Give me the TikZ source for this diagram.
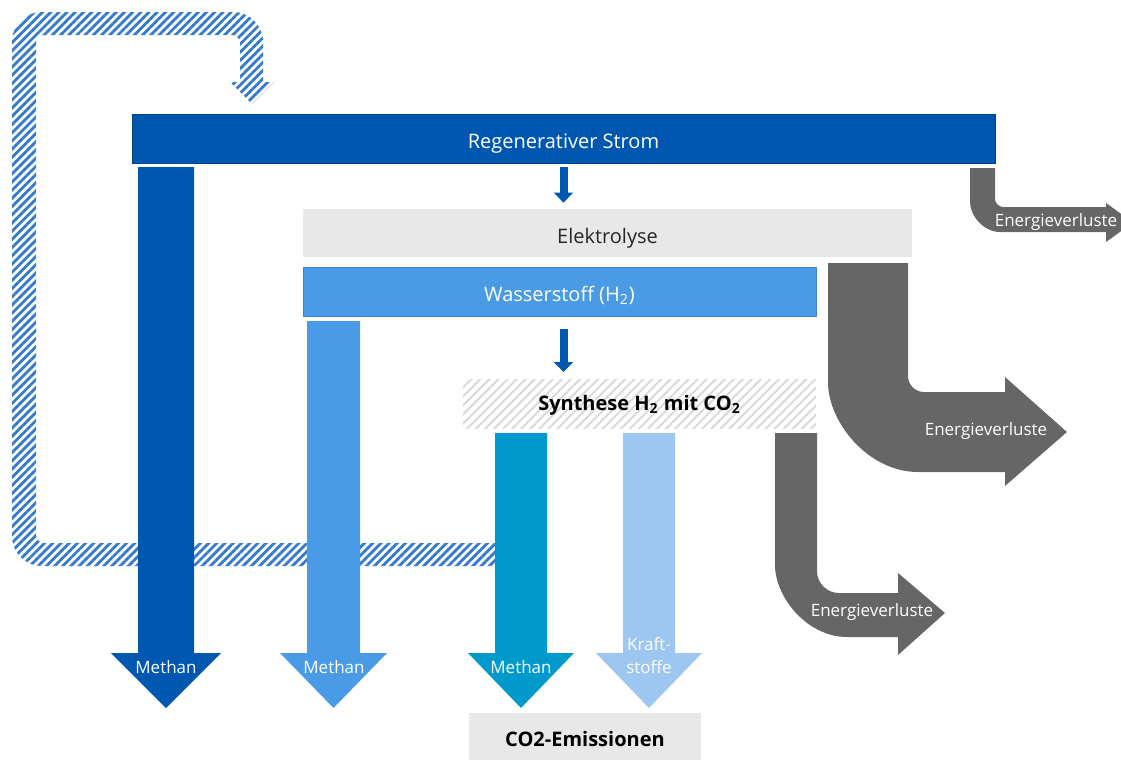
\documentclass[tikz,border=0pt]{standalone}
\usepackage{fontspec}
\setmainfont{Open Sans}
\usetikzlibrary{positioning,calc,patterns.meta,arrows.meta}

\definecolor{stromblue}{HTML}{0057B0}
\definecolor{hblue}{HTML}{4A9BE6}
\definecolor{methteal}{HTML}{0099CC}
\definecolor{kraftblue}{HTML}{9DC7F1}
\definecolor{lossgray}{HTML}{666666}
\definecolor{boxgray}{HTML}{E8E8E8}
\definecolor{hatchblue}{HTML}{3479CC}
\definecolor{hatchgray}{HTML}{D9D9D9}

\newcommand{\mainsize}{\fontsize{10}{11}\selectfont}
\newcommand{\lblsize}{\fontsize{8.5}{11.5}\selectfont}

\begin{document}
\begin{tikzpicture}[x=0.5pt, y=-0.5pt,
    bar/.style={rectangle, inner sep=0pt, text=white, font=\mainsize, text depth=0pt, text height=10pt},
    graybox/.style={rectangle, inner sep=0pt, fill=boxgray, font=\mainsize, text depth=0pt, text height=10pt},
    lbl/.style={text=white, font=\lblsize, align=center, inner sep=0pt},
    smallarrow/.style={draw=stromblue, line width=4pt, -{Triangle[width=9.5pt,length=5pt]}}]
    \clip (0,0) rectangle (1121,760);

    % hatched loop
    \fill[pattern={Lines[angle=45, distance=2.9pt, line width=1.4pt]}, pattern color=hatchblue]
        (500,566) -- (42,566) .. controls (25.4,566) and (12,552.6) .. (12,536)
        -- (12,42) .. controls (12,25.4) and (25.4,12) .. (42,12)
        -- (233,12) .. controls (249.6,12) and (263,25.4) .. (263,42)
        -- (263,82) -- (274,82) -- (252,104) -- (230,82) -- (240,82)
        -- (240,43) .. controls (240,38.6) and (236.4,35) .. (232,35)
        -- (44,35) .. controls (39.6,35) and (36,38.6) .. (36,43)
        -- (36,535) .. controls (36,539.4) and (39.6,543) .. (44,543)
        -- (500,543) -- cycle;

    % boxes
    \node[bar, fill=stromblue, draw=stromblue!80!black, minimum width=431.5pt, minimum height=24.5pt]
        (strom) at (563.5,138.5) {Regenerativer Strom};
    \node[graybox, text=black!85, minimum width=304.5pt, minimum height=24pt]
        (elektro) at (607.5,233) {Elektrolyse};
    \node[bar, fill=hblue, draw=hblue!85!black, minimum width=256.5pt, minimum height=24.5pt]
        (wasser) at (559.5,291.5) {Wasserstoff (H\textsubscript{2})};
    \node[rectangle, inner sep=0pt, minimum width=176.5pt, minimum height=24.5pt,
        pattern={Lines[angle=45, distance=3.2pt, line width=1pt]}, pattern color=hatchgray]
        (synth) at (639.5,403.5) {};
    \node[font=\mainsize\bfseries] (synthtext) at ([yshift=-1pt]synth) {Synthese H\textsubscript{2} mit CO\textsubscript{2}};
    \node[graybox, font=\mainsize\bfseries, minimum width=116pt, minimum height=23.5pt]
        (co2) at (585,736.5) {CO2-Emissionen};

    % small arrows
    \draw[smallarrow] ([yshift=-2pt]strom.south) -- ([yshift=3pt]strom.south |- elektro.north);
    \draw[smallarrow] ([yshift=-6.5pt]strom.south |- wasser.south) -- ([yshift=3pt]strom.south |- synth.north);

    % product arrows
    \foreach \xl/\xr/\yt/\col in {138/194/167/stromblue, 307/360/321/hblue, 495/547/433/methteal, 623/675/433/kraftblue}
        \fill[\col] (\xl,\yt) -- (\xr,\yt) -- (\xr,653) -- (\xr+27,653) -- ({(\xl+\xr)/2},708)
            -- (\xl-27,653) -- (\xl,653) -- cycle;

    \node[lbl] (meth1) at (166,667) {Methan};
    \node[lbl] (meth2) at (334,667) {Methan};
    \node[lbl] (meth3) at (521,667) {Methan};
    \node[lbl] (kraft) at (649,656) {Kraft-\\stoffe};

    % energy losses
    \fill[lossgray] (970,168) -- (995,168)
        -- (995,199) .. controls (995,203.4) and (999.4,207) .. (1003,207)
        -- (1106,207) -- (1106,203) -- (1133,222.5) -- (1106,242) -- (1106,232)
        -- (1000,232) .. controls (983.4,232) and (970,215.4) .. (970,202) -- cycle;
    \fill[lossgray] (828,263) -- (908,263)
        -- (908,376) .. controls (908,384.8) and (915.2,392) .. (924,392)
        -- (1005,392) -- (1005,377) -- (1067,432) -- (1005,486) -- (1005,472)
        -- (918,472) .. controls (868.3,472) and (828,422.3) .. (828,382) -- cycle;
    \fill[lossgray] (775,433) -- (817,433)
        -- (817,571) .. controls (817,583.1) and (826.9,593) .. (839,593)
        -- (898,593) -- (898,573) -- (945,613) -- (898,655) -- (898,637)
        -- (847,637) .. controls (807.3,637) and (775,597.3) .. (775,565) -- cycle;

    \node[lbl] (lossA) at (1056,222) {Energieverluste};
    \node[lbl] (lossB) at (986,431) {Energieverluste};
    \node[lbl] (lossC) at (872,612) {Energieverluste};
\end{tikzpicture}
\end{document}
